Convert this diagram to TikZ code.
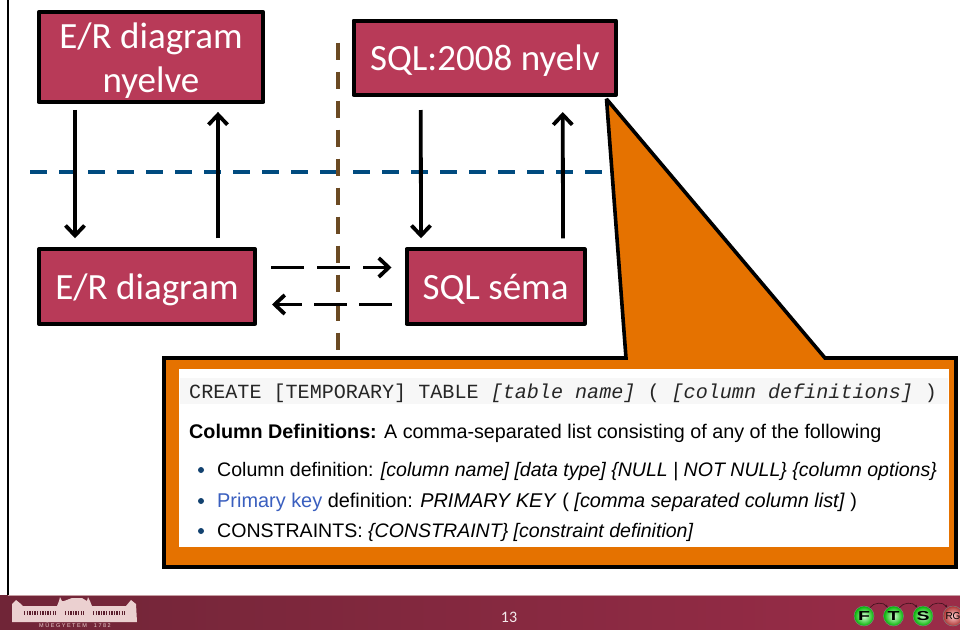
\documentclass[tikz,border=0pt]{standalone}
\usepackage{fontspec}
\setmainfont{Liberation Sans}
\newfontfamily\boxfont{Carlito}
\setmonofont{Liberation Mono}
\usetikzlibrary{arrows.meta}

\definecolor{boxred}{HTML}{B83A58}
\definecolor{calloutorange}{HTML}{E57200}
\definecolor{dashblue}{HTML}{004B7F}
\definecolor{dashbrown}{HTML}{6B4A23}
\definecolor{linkblue}{HTML}{3A5FBF}
\definecolor{bulletblue}{HTML}{12426F}
\definecolor{footleft}{HTML}{702537}
\definecolor{footright}{HTML}{9A2C48}
\definecolor{stonepink}{HTML}{EBD0D0}

\begin{document}
\begin{tikzpicture}[x=1pt,y=-1pt,>={Straight Barb[length=10pt,width=19pt]},
                    conn/.style={->,line width=3.8pt,black},
                    entity/.style={draw=black,fill=boxred,line width=4pt,line join=round,inner sep=0pt,outer sep=0pt,
                                   text=white,align=center,text depth=0pt,font=\boxfont\fontsize{37}{44}\selectfont},
                    listline/.style={anchor=base west,inner sep=0pt,font=\fontsize{#1}{22}\selectfont},
                    fball/.style={circle,minimum size=20pt,inner sep=0pt,draw=black!50,line width=0.5pt,
                                  inner color=green!15!white,outer color=green!70!black,
                                  font=\bfseries\fontsize{13}{13}\selectfont}]
\useasboundingbox (0,0) rectangle (960,629);

%  footer
\draw[black,line width=2.8pt] (8,0) -- (8,595);
\shade[left color=footleft,right color=footright] (0,595) rectangle (960,629);
\draw[stonepink!70!footleft,line width=1pt] (8,595) -- (960,595);
\node (PAGE) at (509,617) {\textcolor{white!90!footright}{\boxfont\fontsize{16}{16}\selectfont 13}};

%  dashed guide lines
\draw[dashblue,line width=3.4pt,dash pattern=on 17pt off 12pt] (30,172) -- (338,172);
\draw[dashblue,line width=3.4pt,dash pattern=on 17pt off 12pt] (353,172) -- (604,172);
\draw[dashbrown,line width=4pt,dash pattern=on 17pt off 12pt] (338,42.5) -- (338,350);

\node[entity,minimum width=224.8pt,minimum height=89.5pt] (ERL) at (151,57.2) {E/R diagram\\nyelve};
\node[entity,minimum width=262.5pt,minimum height=74.5pt] (SQLL) at (484.75,57.75) {SQL:2008 nyelv};
\node[entity,minimum width=216pt,minimum height=74.5pt] (ER) at (147,286.5) {E/R diagram};
\node[entity,minimum width=178pt,minimum height=74.5pt] (SQL) at (495.5,286.5) {SQL séma};

\draw[conn] ([xshift=-76pt,yshift=-8pt]ERL.south) -- ([xshift=-72pt,yshift=11pt]ER.north);
\draw[conn] ([xshift=71pt,yshift=11pt]ER.north) -- ([xshift=67pt,yshift=-10pt]ERL.south);
\draw[conn] ([xshift=-64pt,yshift=-15pt]SQLL.south) -- ([xshift=-74.5pt,yshift=11pt]SQL.north);
\draw[conn] ([xshift=67.5pt,yshift=11pt]SQL.north) -- ([xshift=78pt,yshift=-17pt]SQLL.south);
\draw[conn,dash pattern=on 33pt off 13pt] ([xshift=16pt,yshift=19pt]ER.east) -- ([xshift=-15pt,yshift=19pt]SQL.west);
\draw[conn,dash pattern=on 33pt off 12pt] ([xshift=-15pt,yshift=-18pt]SQL.west) -- ([xshift=17pt,yshift=-18pt]ER.east);

%  callout with its pointer
\draw[black,fill=calloutorange,line width=3.6pt,line join=miter,miter limit=2]
  (164,358) -- (626,358) -- ([xshift=-9.5pt,yshift=-4pt]SQLL.south east) -- (825,358) -- (956,358) -- (956,567) -- (164,567) -- cycle;
\node[fill=white,inner sep=0pt,minimum width=770pt,minimum height=178pt] (PANEL) at (564,458) {};
\fill[black!3] (180,378) rectangle (948,404);

\node[anchor=base west,inner sep=0pt,font=\ttfamily\fontsize{20.1}{22}\selectfont,text=black!85] (CODE) at (189,398)
  {CREATE [TEMPORARY] TABLE \textit{[table name]} ( \textit{[column definitions]} )};
\node[listline=19.75] (DEFS) at (189,438) {\textbf{Column Definitions:} A comma-separated list consisting of any of the following};
\node[listline=19.55] (L1) at (217,476) {Column definition: \textit{[column name] [data type] \{NULL | NOT NULL\} \{column options\}}};
\node[listline=19.9] (L2) at (217,507) {\textcolor{linkblue}{Primary key} definition: \textit{PRIMARY KEY} ( \textit{[comma separated column list]} )};
\node[listline=19.55] (L3) at (217,537) {CONSTRAINTS: \textit{\{CONSTRAINT\} [constraint definition]}};
\foreach \i in {L1,L2,L3}
  \fill[bulletblue] (\i.base west) ++(-16,-6) circle (3pt);

%  building in the footer
\fill[stonepink] (12,604) -- (16,600) -- (21,604) -- (23,606) -- (57,606) -- (59,601) -- (60,597) -- (62,601) -- (64,601)
  -- (72,598) -- (82,598) -- (87,601) -- (88,597) -- (90,601) -- (92,606) -- (126,606) -- (131,600) -- (136,604)
  -- (137,622) -- (12,622) -- cycle;
\foreach \xa/\xb in {24/56,65/84,93/125}
  \draw[footleft!80!black,line width=3.5pt,dash pattern=on 1.3pt off 1.3pt] (\xa,613) -- (\xb,613);
\node[inner sep=0pt,text=stonepink,font=\fontsize{5.5}{6}\selectfont] (MUEGY) at (75,625.5) {M Ű E G Y E T E M \quad 1 7 8 2};

%  ball row in the footer
\node[fball] (F) at (864,616) {\scalebox{1.5}[1]{F}};
\node[fball] (T) at (893.5,616) {\scalebox{1.5}[1]{T}};
\node[fball] (S) at (923,616) {\scalebox{1.5}[1]{S}};
\node[fball,inner color=red!20!white,outer color=red!60!black!80,font=\fontsize{10}{10}\selectfont] (RG) at (953,616) {RG};
\foreach \a/\b in {F/T,T/S,S/RG}
  \draw[black!60!footright,line width=0.6pt,-{Stealth[length=3pt]}] (\a) to[out=55,in=125,looseness=1] (\b);
\end{tikzpicture}
\end{document}
